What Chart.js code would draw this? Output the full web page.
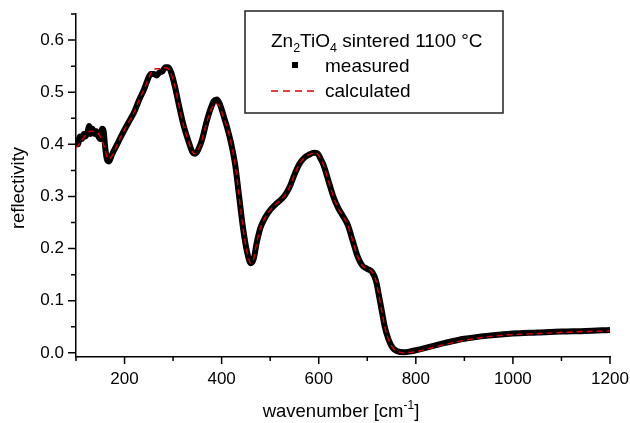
<!DOCTYPE html>
<html lang="en">
  <head>
    <meta charset="utf-8" />
    <title>Zn2TiO4 reflectivity</title>
    <script src="https://cdn.jsdelivr.net/npm/chart.js"></script>
    <style>
      body { margin: 0; background: #fff; }
      #wrap { width: 630px; height: 423px; }
    </style>
  </head>
  <body>
    <div id="wrap"><canvas id="myChart"></canvas></div>
    <script>
      // measured spectrum (black)
      const measWn = [100, 104, 108, 112, 116, 120, 124, 127, 130, 134, 138, 142, 146, 150, 154, 157, 160, 164, 168, 174, 182, 190, 200, 210, 220, 230, 240, 248, 254, 260, 266, 272, 278, 284, 290, 296, 304, 312, 322, 332, 340, 346, 352, 360, 368, 376, 384, 390, 396, 404, 412, 420, 428, 436, 444, 452, 460, 466, 472, 480, 490, 500, 510, 520, 530, 540, 550, 560, 570, 580, 590, 597, 604, 610, 620, 630, 640, 650, 660, 670, 680, 690, 700, 710, 718, 724, 730, 736, 744, 752, 762, 775, 790, 800, 830, 860, 900, 950, 1000, 1050, 1100, 1150, 1200];
      const measR = [0.41, 0.40, 0.415, 0.41, 0.42, 0.415, 0.425, 0.435, 0.42, 0.43, 0.42, 0.425, 0.415, 0.41, 0.43, 0.425, 0.395, 0.37, 0.367, 0.38, 0.395, 0.41, 0.428, 0.445, 0.462, 0.485, 0.505, 0.525, 0.535, 0.535, 0.532, 0.538, 0.54, 0.548, 0.548, 0.538, 0.51, 0.475, 0.435, 0.405, 0.385, 0.382, 0.39, 0.41, 0.44, 0.465, 0.483, 0.486, 0.478, 0.455, 0.43, 0.40, 0.36, 0.30, 0.24, 0.195, 0.172, 0.18, 0.21, 0.24, 0.26, 0.274, 0.284, 0.292, 0.302, 0.318, 0.342, 0.362, 0.374, 0.38, 0.384, 0.383, 0.372, 0.36, 0.33, 0.30, 0.278, 0.262, 0.245, 0.215, 0.185, 0.167, 0.161, 0.155, 0.138, 0.11, 0.08, 0.05, 0.025, 0.01, 0.003, 0.001, 0.003, 0.005, 0.012, 0.019, 0.027, 0.033, 0.037, 0.039, 0.041, 0.042, 0.044];

      // calculated fit (red dashed)
      const calcWn = [100, 110, 120, 130, 140, 148, 154, 160, 166, 172, 182, 190, 200, 210, 220, 230, 240, 250, 258, 266, 274, 282, 290, 296, 304, 312, 322, 332, 340, 346, 352, 360, 368, 376, 384, 390, 396, 404, 412, 420, 428, 436, 444, 452, 460, 466, 472, 480, 490, 500, 510, 520, 530, 540, 550, 560, 570, 580, 590, 597, 604, 610, 620, 630, 640, 650, 660, 670, 680, 690, 700, 710, 718, 724, 730, 736, 744, 752, 762, 775, 790, 800, 830, 860, 900, 950, 1000, 1050, 1100, 1150, 1200];
      const calcR = [0.393, 0.405, 0.418, 0.425, 0.424, 0.418, 0.407, 0.39, 0.372, 0.375, 0.393, 0.41, 0.428, 0.445, 0.462, 0.485, 0.505, 0.528, 0.542, 0.545, 0.545, 0.547, 0.545, 0.535, 0.51, 0.475, 0.435, 0.405, 0.385, 0.382, 0.39, 0.41, 0.438, 0.462, 0.476, 0.478, 0.472, 0.452, 0.43, 0.40, 0.36, 0.30, 0.24, 0.195, 0.172, 0.18, 0.21, 0.24, 0.26, 0.274, 0.284, 0.292, 0.302, 0.318, 0.342, 0.362, 0.374, 0.38, 0.383, 0.382, 0.372, 0.36, 0.33, 0.30, 0.278, 0.262, 0.245, 0.215, 0.185, 0.167, 0.161, 0.155, 0.138, 0.11, 0.08, 0.05, 0.025, 0.01, 0.003, 0.0, 0.001, 0.002, 0.009, 0.016, 0.024, 0.031, 0.035, 0.037, 0.039, 0.041, 0.042];

      // axis ticks
      const xTicks = [100, 200, 300, 400, 500, 600, 700, 800, 900, 1000, 1100, 1200];
      const yTicks = [0, 0.05, 0.1, 0.15, 0.2, 0.25, 0.3, 0.35, 0.4, 0.45, 0.5, 0.55, 0.6, 0.65];

      const legendTitle = ["Zn", "2", "TiO", "4", " sintered 1100 °C"];
      const FONT = "'Liberation Sans', Arial, sans-serif";

      function toPoints(xs, ys) {
        return xs.map((x, i) => ({ x: x, y: ys[i] }));
      }

      const isMajorY = (v) => Math.abs(v * 10 - Math.round(v * 10)) < 1e-6;
      const isMajorX = (v) => v % 200 === 0;

      // tick marks (major + minor) and axis titles / legend box
      const decorPlugin = {
        id: "decor",
        afterDraw(chart) {
          const c = chart.ctx;
          const xs = chart.scales.x;
          const ys = chart.scales.y;
          const area = chart.chartArea;
          c.save();
          c.strokeStyle = "#000";
          c.lineWidth = 1.5;
          c.beginPath();
          xTicks.forEach((v) => {
            const px = xs.getPixelForValue(v);
            const len = isMajorX(v) ? 7 : 4;
            c.moveTo(px, area.bottom);
            c.lineTo(px, area.bottom + len);
          });
          yTicks.forEach((v) => {
            const py = ys.getPixelForValue(v);
            const len = isMajorY(v) ? 8 : 5;
            c.moveTo(area.left, py);
            c.lineTo(area.left - len, py);
          });
          c.stroke();

          // y title
          c.fillStyle = "#000";
          c.font = "18.5px " + FONT;
          c.textAlign = "center";
          c.textBaseline = "middle";
          c.save();
          c.translate(19, 188);
          c.rotate(-Math.PI / 2);
          c.fillText("reflectivity", 0, 0);
          c.restore();

          // x title with superscript
          const main = "wavenumber [cm";
          const sup = "-1";
          const end = "]";
          c.font = "18.5px " + FONT;
          const w1 = c.measureText(main).width;
          const w3 = c.measureText(end).width;
          c.font = "12px " + FONT;
          const w2 = c.measureText(sup).width;
          let x0 = 341 - (w1 + w2 + w3) / 2;
          const by = 417;
          c.textAlign = "left";
          c.textBaseline = "alphabetic";
          c.font = "18.5px " + FONT;
          c.fillText(main, x0, by);
          c.font = "12px " + FONT;
          c.fillText(sup, x0 + w1, by - 8);
          c.font = "18.5px " + FONT;
          c.fillText(end, x0 + w1 + w2, by);

          // legend box
          c.lineWidth = 1.5;
          c.strokeStyle = "#222";
          c.strokeRect(245, 11, 258, 102);

          let tx = 271;
          const ty = 47;
          legendTitle.forEach((part, i) => {
            const subscript = i === 1 || i === 3;
            c.font = (subscript ? "12.5px " : "19px ") + FONT;
            c.fillText(part, tx, subscript ? ty + 5 : ty);
            tx += c.measureText(part).width;
          });

          c.font = "19px " + FONT;
          c.fillText("measured", 325, 72);
          c.fillText("calculated", 325, 97);

          c.fillStyle = "#000";
          c.fillRect(292, 62, 6, 6);

          c.strokeStyle = "#e00000";
          c.lineWidth = 1.3;
          c.setLineDash([7, 5]);
          c.beginPath();
          c.moveTo(271, 91);
          c.lineTo(316, 91);
          c.stroke();
          c.restore();
        },
      };

      const ctx = document.getElementById("myChart");

      const myChart = new Chart(ctx, {
        type: "line",
        data: {
          datasets: [
            {
              label: "measured",
              data: toPoints(measWn, measR),
              borderColor: "#000",
              borderWidth: 6,
              pointRadius: 0,
              tension: 0.4,
              cubicInterpolationMode: "monotone",
              order: 2,
            },
            {
              label: "calculated",
              data: toPoints(calcWn, calcR),
              borderColor: "#e00000",
              borderWidth: 1.4,
              borderDash: [6, 4],
              pointRadius: 0,
              cubicInterpolationMode: "monotone",
              order: 1,
            },
          ],
        },
        options: {
          responsive: true,
          maintainAspectRatio: false,
          animation: false,
          layout: { padding: { top: 14, right: 20, left: 0, bottom: 0 } },
          plugins: {
            legend: { display: false },
            tooltip: { enabled: false },
          },
          scales: {
            x: {
              type: "linear",
              min: 100,
              max: 1200,
              afterBuildTicks: (scale) => {
                scale.ticks = xTicks.map((v) => ({ value: v }));
              },
              afterFit: (scale) => {
                scale.height = 66;
                scale.paddingLeft = 0;
                scale.paddingRight = 0;
              },
              ticks: {
                autoSkip: false,
                maxRotation: 0,
                padding: 12,
                color: "#000",
                font: { family: FONT, size: 17 },
                callback: (v) => (isMajorX(v) ? String(v) : ""),
              },
              grid: { drawOnChartArea: false, drawTicks: false },
              border: { display: true, color: "#000", width: 1.5 },
            },
            y: {
              min: -0.008,
              max: 0.65,
              afterBuildTicks: (scale) => {
                scale.ticks = yTicks.map((v) => ({ value: v }));
              },
              afterFit: (scale) => {
                scale.width = 76;
                scale.paddingTop = 0;
                scale.paddingBottom = 0;
              },
              ticks: {
                autoSkip: false,
                padding: 12,
                color: "#000",
                font: { family: FONT, size: 17 },
                callback: (v) => (isMajorY(v) ? v.toFixed(1) : ""),
              },
              grid: { drawOnChartArea: false, drawTicks: false },
              border: { display: true, color: "#000", width: 1.5 },
            },
          },
        },
        plugins: [decorPlugin],
      });
    </script>
  </body>
</html>
